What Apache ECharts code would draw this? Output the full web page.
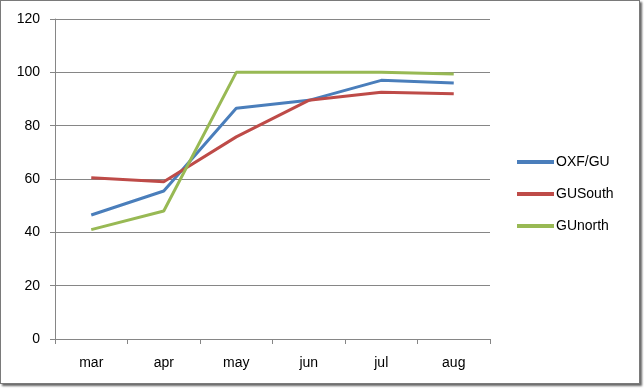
<!DOCTYPE html>
<html><head><meta charset="utf-8">
<script src="https://cdn.jsdelivr.net/npm/echarts@6/dist/echarts.min.js"></script>
<style>
html,body{margin:0;padding:0;background:#fff;}
#frame{position:absolute;left:0;top:0;width:638px;height:382px;border:1px solid #7a7a7a;box-shadow:2px 2px 2px #666;background:#fff;}
#c{position:absolute;left:0;top:0;width:644px;height:389px;}
</style></head>
<body>
<div id="frame"></div>
<div id="c"></div>
<script>
var categories = ['mar','apr','may','jun','jul','aug'];
var oxfGU   = [46.5, 55.5, 86.5, 89.5, 97, 96];
var guSouth = [60.5, 59, 75.8, 89.5, 92.5, 92];
var guNorth = [41, 48, 100, 100, 100, 99.4];
var yTicks = [0, 20, 40, 60, 80, 100, 120];

var chart = echarts.init(document.getElementById('c'), null, {renderer:'canvas'});
var font = 'Liberation Sans, Arial, sans-serif';
function s(name, data, color){
  return {name:name, type:'line', data:data, symbol:'none', animation:false,
    lineStyle:{color:color, width:3}, itemStyle:{color:color}};
}
chart.setOption({
  backgroundColor:'transparent',
  animation:false,
  grid:{left:55, top:19, right:154, bottom:50, containLabel:false},
  legend:{orient:'vertical', left:512, top:150, itemGap:18, itemWidth:37, itemHeight:4,
    icon:'rect', textStyle:{fontFamily:font, fontSize:14, color:'#000', padding:[0,0,0,-3]},
    data:['OXF/GU','GUSouth','GUnorth']},
  xAxis:{type:'category', data:categories, boundaryGap:true,
    axisLine:{lineStyle:{color:'#868686', width:1}},
    axisTick:{show:true, length:5, alignWithLabel:false, lineStyle:{color:'#868686'}},
    axisLabel:{fontFamily:font, fontSize:14, color:'#000', margin:17}},
  yAxis:{type:'value', min:yTicks[0], max:yTicks[yTicks.length-1], interval:20,
    axisLine:{show:true, lineStyle:{color:'#868686'}},
    axisTick:{show:true, length:5, lineStyle:{color:'#868686'}},
    splitLine:{lineStyle:{color:'#868686', width:1}},
    axisLabel:{fontFamily:font, fontSize:14, color:'#000', margin:15}},
  series:[s('OXF/GU', oxfGU, '#4a7ebb'), s('GUSouth', guSouth, '#be4b48'), s('GUnorth', guNorth, '#98b954')]
});
</script>
</body></html>
